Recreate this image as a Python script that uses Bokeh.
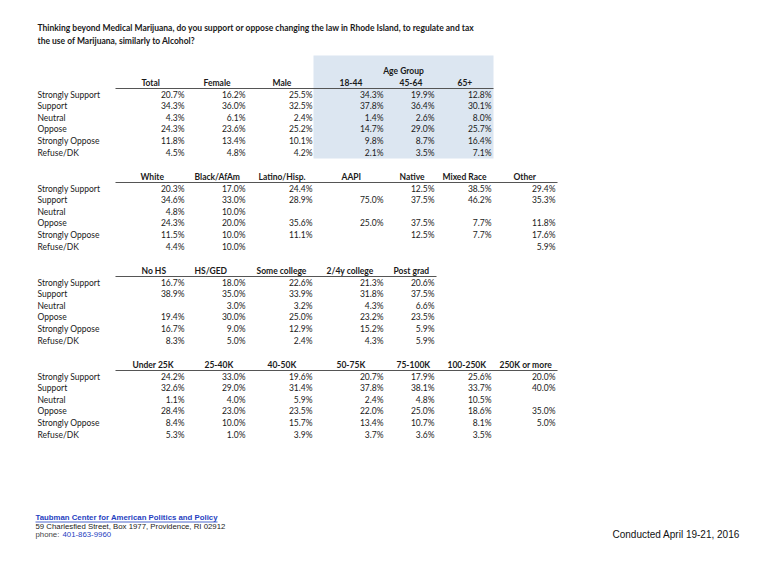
from bokeh.plotting import figure
from bokeh.models import Range1d
from bokeh.core.properties import value
from bokeh.embed import file_html
from bokeh.resources import INLINE

# ---------------- data ----------------
title_lines = [
    "Thinking beyond Medical Marijuana, do you support or oppose changing the law in Rhode Island, to regulate and tax",
    "the use of Marijuana, similarly to Alcohol?",
]
rows = ["Strongly Support", "Support", "Neutral", "Oppose", "Strongly Oppose", "Refuse/DK"]

# Table 1: total, gender, age
total = [20.7, 34.3, 4.3, 24.3, 11.8, 4.5]
female = [16.2, 36.0, 6.1, 23.6, 13.4, 4.8]
male = [25.5, 32.5, 2.4, 25.2, 10.1, 4.2]
age_18_44 = [34.3, 37.8, 1.4, 14.7, 9.8, 2.1]
age_45_64 = [19.9, 36.4, 2.6, 29.0, 8.7, 3.5]
age_65_plus = [12.8, 30.1, 8.0, 25.7, 16.4, 7.1]

# Table 2: race
white = [20.3, 34.6, 4.8, 24.3, 11.5, 4.4]
black = [17.0, 33.0, 10.0, 20.0, 10.0, 10.0]
latino = [24.4, 28.9, None, 35.6, 11.1, None]
aapi = [None, 75.0, None, 25.0, None, None]
native = [12.5, 37.5, None, 37.5, 12.5, None]
mixed = [38.5, 46.2, None, 7.7, 7.7, None]
other = [29.4, 35.3, None, 11.8, 17.6, 5.9]

# Table 3: education
no_hs = [16.7, 38.9, None, 19.4, 16.7, 8.3]
hs_ged = [18.0, 35.0, 3.0, 30.0, 9.0, 5.0]
some_college = [22.6, 33.9, 3.2, 25.0, 12.9, 2.4]
college_2_4 = [21.3, 31.8, 4.3, 23.2, 15.2, 4.3]
post_grad = [20.6, 37.5, 6.6, 23.5, 5.9, 5.9]

# Table 4: income
inc_under_25 = [24.2, 32.6, 1.1, 28.4, 8.4, 5.3]
inc_25_40 = [33.0, 29.0, 4.0, 23.0, 10.0, 1.0]
inc_40_50 = [19.6, 31.4, 5.9, 23.5, 15.7, 3.9]
inc_50_75 = [20.7, 37.8, 2.4, 22.0, 13.4, 3.7]
inc_75_100 = [17.9, 38.1, 4.8, 25.0, 10.7, 3.6]
inc_100_250 = [25.6, 33.7, 10.5, 18.6, 8.1, 3.5]
inc_250_plus = [20.0, 40.0, None, 35.0, 5.0, None]

footer_org = "Taubman Center for American Politics and Policy"
footer_addr = "59 Charlesfied Street, Box 1977, Providence, RI 02912"
footer_phone_label = "phone: "
footer_phone = "401-863-9960"
conducted = "Conducted April 19-21, 2016"

# ---------------- layout ----------------
W, H = 766, 553
BODY = value("Lato")
SANS = value("Liberation Sans")
FS = "8.5px"
INK = "#1a1a1a"

slots = [184, 245, 312, 383, 434, 491, 555]
tables = [
    dict(hy=82, line=(115, 493), cols=[
        ("Total", 141, 0, total), ("Female", 203, 1, female), ("Male", 272, 2, male),
        ("18-44", 339, 3, age_18_44), ("45-64", 399, 4, age_45_64), ("65+", 457, 5, age_65_plus)]),
    dict(hy=176, line=(115, 557), cols=[
        ("White", 140, 0, white), ("Black/AfAm", 194, 1, black), ("Latino/Hisp.", 258, 2, latino),
        ("AAPI", 341, 3, aapi), ("Native", 399, 4, native), ("Mixed Race", 442, 5, mixed),
        ("Other", 513, 6, other)]),
    dict(hy=270, line=(115, 436), cols=[
        ("No HS", 141, 0, no_hs), ("HS/GED", 194, 1, hs_ged), ("Some college", 256, 2, some_college),
        ("2/4y college", 326, 3, college_2_4), ("Post grad", 393, 4, post_grad)]),
    dict(hy=364, line=(115, 557), cols=[
        ("Under 25K", 132, 0, inc_under_25), ("25-40K", 204, 1, inc_25_40), ("40-50K", 267, 2, inc_40_50),
        ("50-75K", 336, 3, inc_50_75), ("75-100K", 396, 4, inc_75_100), ("100-250K", 447, 5, inc_100_250),
        ("250K or more", 499, 6, inc_250_plus)]),
]

p = figure(width=W, height=H, x_range=Range1d(0, W), y_range=Range1d(H, 0),
           output_backend="svg", toolbar_location=None, min_border=0,
           x_axis_location=None, y_axis_location=None)
p.grid.visible = False
p.outline_line_color = None
p.background_fill_color = "white"
p.border_fill_color = "white"

# age group shading
p.quad(left=[313], right=[493], top=[55], bottom=[158], fill_color="#dce6f1", line_color=None)
p.text(x=[403], y=[70], text=["Age Group"], text_font=BODY, text_font_size=FS,
       text_font_style="bold", text_align="center", text_baseline="middle", text_color=INK)

# title
p.text(x=[37, 37], y=[27, 40], text=title_lines, text_font=BODY, text_font_size="8.5px",
       text_font_style="bold", text_baseline="middle", text_color=INK)

for t in tables:
    hy = t["hy"]
    row_y = [hy + 12 + i * 11.65 for i in range(len(rows))]
    p.text(x=[37] * len(rows), y=row_y, text=rows, text_font=BODY, text_font_size=FS,
           text_baseline="middle", text_color=INK)
    p.segment(x0=[t["line"][0]], x1=[t["line"][1]], y0=[hy + 6], y1=[hy + 6],
              line_color="#555555", line_width=1.2)
    hx, hyl, htx, vx, vy, vt = [], [], [], [], [], []
    for name, x, slot, vals in t["cols"]:
        hx.append(x); hyl.append(hy); htx.append(name)
        for i, v in enumerate(vals):
            if v is not None:
                vx.append(slots[slot]); vy.append(row_y[i]); vt.append(f"{v:.1f}%")
    p.text(x=hx, y=hyl, text=htx, text_font=BODY, text_font_size=FS, text_font_style="bold",
           text_baseline="middle", text_color=INK)
    p.text(x=vx, y=vy, text=vt, text_font=BODY, text_font_size=FS, text_align="right",
           text_baseline="middle", text_color=INK)

# footer
p.text(x=[35], y=[517], text=[footer_org], text_font=SANS, text_font_size="7.8px",
       text_font_style="bold", text_baseline="middle", text_color="#1f3fbf")
p.segment(x0=[35], x1=[217], y0=[521.5], y1=[521.5], line_color="#1f3fbf", line_width=0.8)
p.text(x=[35], y=[526], text=[footer_addr], text_font=SANS, text_font_size="7.8px",
       text_baseline="middle", text_color="#222222")
p.text(x=[35], y=[534], text=[footer_phone_label], text_font=SANS, text_font_size="7.8px",
       text_baseline="middle", text_color="#444444")
p.text(x=[62], y=[534], text=[footer_phone], text_font=SANS, text_font_size="7.8px",
       text_baseline="middle", text_color="#1f3fbf")
p.text(x=[612], y=[534], text=[conducted], text_font=SANS, text_font_size="10px",
       text_baseline="middle", text_color="#111111")

open("out.html", "w").write(file_html(p, INLINE))
